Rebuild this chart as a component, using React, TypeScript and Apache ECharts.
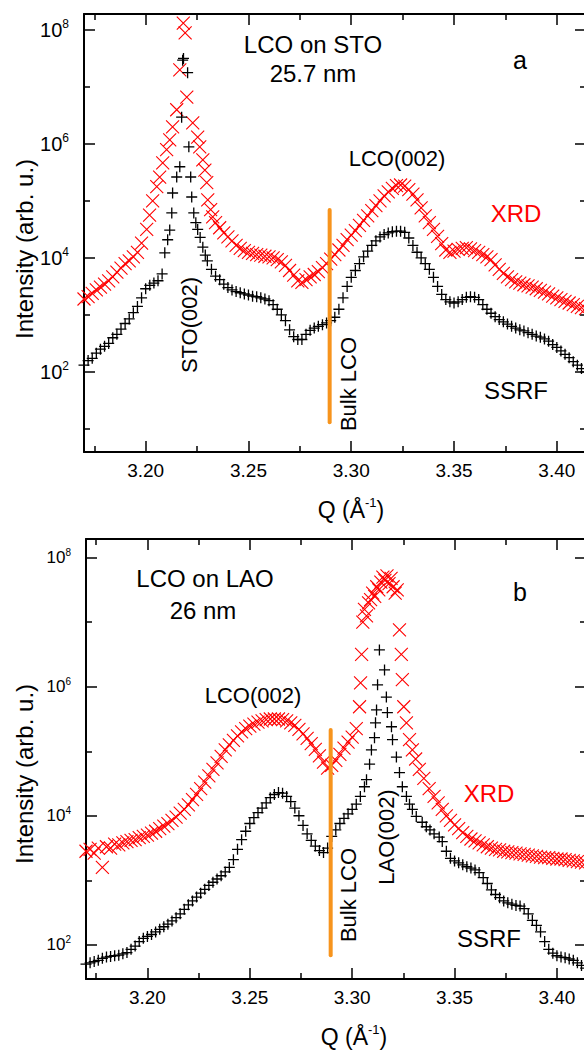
import React, { useEffect, useRef } from "react";
import * as echarts from "echarts";

// Each point: [Q (Å^-1), log10 of intensity (arb. u.)]
// Panel a: LCO on STO
const xrdA: [number, number][] = [
  [3.170, 3.28], [3.172, 3.32], [3.174, 3.38], [3.176, 3.44], [3.178, 3.49], [3.180, 3.54], [3.182, 3.6],
  [3.184, 3.67], [3.186, 3.75], [3.188, 3.82], [3.190, 3.9], [3.192, 3.95], [3.194, 4.02], [3.196, 4.1],
  [3.198, 4.26], [3.2005, 4.5], [3.2019, 4.75], [3.2034, 5.0], [3.2054, 5.25], [3.2068, 5.42], [3.2083, 5.67],
  [3.2102, 5.9], [3.2117, 6.07], [3.2131, 6.3], [3.2151, 6.6], [3.2166, 7.3], [3.2183, 8.12], [3.2192, 7.95],
  [3.2200, 6.82], [3.2229, 6.37], [3.2253, 6.12], [3.2263, 5.95], [3.2278, 5.72], [3.2288, 5.54], [3.2297, 5.32],
  [3.2302, 5.02], [3.2316, 4.85], [3.2326, 4.72], [3.234, 4.62], [3.236, 4.53], [3.238, 4.44], [3.240, 4.37],
  [3.242, 4.3], [3.244, 4.22], [3.246, 4.17], [3.248, 4.13], [3.250, 4.1], [3.252, 4.08], [3.254, 4.06],
  [3.256, 4.05], [3.258, 4.03], [3.260, 4.02], [3.262, 4.0], [3.264, 3.97], [3.266, 3.93], [3.268, 3.87],
  [3.270, 3.78], [3.272, 3.7], [3.274, 3.6], [3.276, 3.57], [3.278, 3.62], [3.280, 3.67], [3.282, 3.71],
  [3.284, 3.76], [3.286, 3.83], [3.288, 3.9], [3.290, 3.98], [3.292, 4.06], [3.294, 4.14], [3.296, 4.22],
  [3.298, 4.32], [3.300, 4.4], [3.302, 4.48], [3.304, 4.57], [3.306, 4.66], [3.308, 4.74], [3.310, 4.83],
  [3.312, 4.92], [3.314, 5.0], [3.316, 5.09], [3.318, 5.16], [3.320, 5.22], [3.322, 5.27], [3.324, 5.28],
  [3.326, 5.26], [3.328, 5.2], [3.330, 5.12], [3.332, 5.02], [3.334, 4.88], [3.336, 4.74], [3.338, 4.62],
  [3.340, 4.5], [3.342, 4.38], [3.344, 4.25], [3.346, 4.14], [3.348, 4.1], [3.350, 4.12], [3.352, 4.15],
  [3.354, 4.17], [3.356, 4.18], [3.358, 4.16], [3.360, 4.13], [3.362, 4.1], [3.364, 4.06], [3.366, 4.02],
  [3.368, 3.97], [3.370, 3.88], [3.372, 3.8], [3.374, 3.73], [3.376, 3.67], [3.378, 3.62], [3.380, 3.58],
  [3.382, 3.56], [3.384, 3.53], [3.386, 3.51], [3.388, 3.49], [3.390, 3.46], [3.392, 3.43], [3.394, 3.4],
  [3.396, 3.37], [3.398, 3.33], [3.400, 3.3], [3.402, 3.27], [3.404, 3.24], [3.406, 3.21], [3.408, 3.18],
  [3.410, 3.15], [3.412, 3.13], [3.414, 3.11],
];

const ssrfA: [number, number][] = [
  [3.170, 2.12], [3.172, 2.2], [3.174, 2.24], [3.176, 2.33], [3.178, 2.4], [3.180, 2.45], [3.182, 2.5],
  [3.184, 2.6], [3.186, 2.66], [3.188, 2.75], [3.190, 2.85], [3.192, 2.93], [3.194, 3.04], [3.196, 3.15],
  [3.198, 3.3], [3.200, 3.46], [3.202, 3.52], [3.204, 3.56], [3.206, 3.6], [3.208, 3.72], [3.2093, 4.09],
  [3.2107, 4.32], [3.2117, 4.49], [3.2127, 4.79], [3.2131, 5.14], [3.2151, 5.42], [3.2166, 5.6], [3.2175, 6.47],
  [3.2180, 7.47], [3.2184, 7.5], [3.2204, 7.25], [3.2210, 5.95], [3.2219, 5.42], [3.2224, 5.07], [3.2234, 4.79],
  [3.2244, 4.62], [3.2253, 4.5], [3.2265, 4.36], [3.2278, 4.19], [3.2290, 4.05], [3.230, 3.95], [3.232, 3.8],
  [3.234, 3.68], [3.236, 3.62], [3.238, 3.54], [3.240, 3.48], [3.242, 3.44], [3.244, 3.41], [3.246, 3.39],
  [3.248, 3.37], [3.250, 3.35], [3.252, 3.33], [3.254, 3.32], [3.256, 3.3], [3.258, 3.28], [3.260, 3.25],
  [3.262, 3.18], [3.264, 3.1], [3.266, 3.0], [3.268, 2.9], [3.270, 2.74], [3.272, 2.62], [3.274, 2.57],
  [3.276, 2.57], [3.278, 2.66], [3.280, 2.73], [3.282, 2.77], [3.284, 2.8], [3.286, 2.83], [3.288, 2.86],
  [3.290, 2.9], [3.292, 2.96], [3.294, 3.1], [3.296, 3.3], [3.298, 3.5], [3.300, 3.66], [3.302, 3.78],
  [3.304, 3.9], [3.306, 4.02], [3.308, 4.12], [3.310, 4.22], [3.312, 4.3], [3.314, 4.37], [3.316, 4.41],
  [3.318, 4.44], [3.320, 4.46], [3.322, 4.47], [3.324, 4.47], [3.326, 4.45], [3.328, 4.35], [3.330, 4.22],
  [3.332, 4.1], [3.334, 4.0], [3.336, 3.9], [3.338, 3.8], [3.340, 3.66], [3.342, 3.5], [3.344, 3.36],
  [3.346, 3.27], [3.348, 3.23], [3.350, 3.21], [3.352, 3.23], [3.354, 3.27], [3.356, 3.31], [3.358, 3.32],
  [3.360, 3.31], [3.362, 3.27], [3.364, 3.18], [3.366, 3.1], [3.368, 3.03], [3.370, 2.97], [3.372, 2.92],
  [3.374, 2.88], [3.376, 2.84], [3.378, 2.8], [3.380, 2.77], [3.382, 2.74], [3.384, 2.72], [3.386, 2.69],
  [3.388, 2.66], [3.390, 2.63], [3.392, 2.61], [3.394, 2.58], [3.396, 2.54], [3.398, 2.48], [3.400, 2.43],
  [3.402, 2.37], [3.404, 2.31], [3.406, 2.25], [3.408, 2.18], [3.410, 2.12], [3.412, 2.06], [3.414, 2.0],
];

// Panel b: LCO on LAO
const xrdB: [number, number][] = [
  [3.170, 3.45], [3.172, 3.48], [3.174, 3.42], [3.176, 3.5], [3.178, 3.2], [3.180, 3.52], [3.182, 3.5],
  [3.184, 3.56], [3.186, 3.55], [3.188, 3.58], [3.190, 3.6], [3.192, 3.62], [3.194, 3.63], [3.196, 3.66],
  [3.198, 3.68], [3.200, 3.7], [3.202, 3.73], [3.204, 3.76], [3.206, 3.8], [3.208, 3.84], [3.210, 3.88],
  [3.212, 3.93], [3.214, 3.98], [3.216, 4.04], [3.218, 4.1], [3.220, 4.17], [3.222, 4.25], [3.224, 4.33],
  [3.226, 4.42], [3.228, 4.52], [3.230, 4.62], [3.232, 4.72], [3.234, 4.82], [3.236, 4.92], [3.238, 5.02],
  [3.240, 5.1], [3.242, 5.17], [3.244, 5.24], [3.246, 5.3], [3.248, 5.35], [3.250, 5.39], [3.252, 5.42],
  [3.254, 5.45], [3.256, 5.47], [3.258, 5.49], [3.260, 5.5], [3.262, 5.5], [3.264, 5.5], [3.266, 5.49],
  [3.268, 5.47], [3.270, 5.44], [3.272, 5.4], [3.274, 5.34], [3.276, 5.27], [3.278, 5.2], [3.280, 5.12],
  [3.282, 5.03], [3.284, 4.93], [3.286, 4.83], [3.288, 4.74], [3.290, 4.78], [3.292, 4.86], [3.294, 4.95],
  [3.296, 5.05], [3.298, 5.14], [3.300, 5.22], [3.302, 5.35], [3.3036, 5.69], [3.3041, 6.06], [3.3046, 6.5],
  [3.3052, 7.0], [3.306, 7.2], [3.307, 7.1], [3.308, 7.3], [3.309, 7.35], [3.310, 7.45], [3.311, 7.4],
  [3.312, 7.55], [3.313, 7.5], [3.314, 7.62], [3.315, 7.7], [3.316, 7.65], [3.317, 7.72], [3.318, 7.6],
  [3.319, 7.68], [3.320, 7.55], [3.321, 7.45], [3.322, 7.5], [3.3231, 6.88], [3.3240, 6.5], [3.3245, 6.11],
  [3.3252, 5.69], [3.3265, 5.44], [3.328, 5.18], [3.3294, 5.02], [3.331, 4.88], [3.3328, 4.72], [3.335, 4.58],
  [3.3376, 4.42], [3.340, 4.3], [3.342, 4.2], [3.344, 4.1], [3.346, 4.0], [3.348, 3.93], [3.350, 3.86],
  [3.352, 3.8], [3.354, 3.74], [3.356, 3.68], [3.358, 3.64], [3.360, 3.61], [3.362, 3.58], [3.364, 3.55],
  [3.366, 3.52], [3.368, 3.5], [3.370, 3.48], [3.372, 3.47], [3.374, 3.45], [3.376, 3.44], [3.378, 3.43],
  [3.380, 3.42], [3.382, 3.41], [3.384, 3.4], [3.386, 3.39], [3.388, 3.38], [3.390, 3.37], [3.392, 3.36],
  [3.394, 3.35], [3.396, 3.35], [3.398, 3.34], [3.400, 3.33], [3.402, 3.33], [3.404, 3.32], [3.406, 3.31],
  [3.408, 3.3], [3.410, 3.29], [3.412, 3.28], [3.414, 3.27],
];

const ssrfB: [number, number][] = [
  [3.170, 1.7], [3.172, 1.72], [3.174, 1.74], [3.176, 1.76], [3.178, 1.79], [3.180, 1.81], [3.182, 1.82],
  [3.184, 1.83], [3.186, 1.84], [3.188, 1.86], [3.190, 1.88], [3.192, 1.93], [3.194, 1.98], [3.196, 2.05],
  [3.198, 2.1], [3.200, 2.13], [3.202, 2.16], [3.204, 2.2], [3.206, 2.24], [3.208, 2.28], [3.210, 2.32],
  [3.212, 2.37], [3.214, 2.42], [3.216, 2.48], [3.218, 2.55], [3.220, 2.62], [3.222, 2.68], [3.224, 2.74],
  [3.226, 2.8], [3.228, 2.86], [3.230, 2.92], [3.232, 2.97], [3.234, 3.02], [3.236, 3.07], [3.238, 3.13],
  [3.240, 3.2], [3.242, 3.32], [3.244, 3.48], [3.246, 3.63], [3.248, 3.76], [3.250, 3.88], [3.252, 3.97],
  [3.254, 4.05], [3.256, 4.12], [3.258, 4.2], [3.260, 4.28], [3.262, 4.33], [3.264, 4.36], [3.266, 4.35],
  [3.268, 4.3], [3.270, 4.22], [3.272, 4.12], [3.274, 4.0], [3.276, 3.85], [3.278, 3.72], [3.280, 3.62],
  [3.282, 3.53], [3.284, 3.46], [3.286, 3.43], [3.288, 3.5], [3.290, 3.68], [3.292, 3.78], [3.294, 3.88],
  [3.296, 3.96], [3.298, 4.03], [3.300, 4.1], [3.302, 4.18], [3.304, 4.3], [3.306, 4.45], [3.307, 4.56],
  [3.3085, 4.8], [3.3094, 5.02], [3.3109, 5.21], [3.3114, 5.44], [3.3119, 5.64], [3.3124, 6.03], [3.3133, 6.57],
  [3.3158, 6.26], [3.3167, 5.84], [3.3172, 5.6], [3.3192, 5.38], [3.3197, 5.18], [3.3216, 4.91], [3.3231, 4.67],
  [3.3245, 4.45], [3.3265, 4.3], [3.328, 4.18], [3.3294, 4.1], [3.3313, 3.99], [3.3342, 3.9], [3.3362, 3.83],
  [3.338, 3.78], [3.340, 3.72], [3.3425, 3.67], [3.344, 3.6], [3.346, 3.45], [3.348, 3.34], [3.350, 3.3],
  [3.352, 3.27], [3.354, 3.24], [3.356, 3.21], [3.358, 3.19], [3.360, 3.16], [3.362, 3.12], [3.364, 3.04],
  [3.366, 2.95], [3.368, 2.85], [3.370, 2.78], [3.372, 2.73], [3.374, 2.68], [3.376, 2.65], [3.378, 2.63],
  [3.380, 2.61], [3.382, 2.6], [3.384, 2.56], [3.386, 2.48], [3.388, 2.38], [3.390, 2.3], [3.392, 2.2],
  [3.394, 2.05], [3.396, 1.93], [3.398, 1.87], [3.400, 1.83], [3.402, 1.81], [3.404, 1.8], [3.406, 1.78],
  [3.408, 1.76], [3.410, 1.72], [3.412, 1.68], [3.414, 1.64],
];

// Bulk LCO reference line: Q position and its vertical extent (log10 intensity)
const bulkLcoQ = 3.2895;
const bulkLineA = [4.84, 1.12];
const bulkLineB = [5.33, 1.84];

// Axis ticks
const xMajorTicks = [3.2, 3.25, 3.3, 3.35, 3.4];
const xMinorTicks = [3.175, 3.225, 3.275, 3.325, 3.375];
const yMajorDecades = [2, 4, 6, 8];
const yMinorDecades = [1, 3, 5, 7];

const FONT = '"Liberation Sans", Arial, Helvetica, sans-serif';
const PLUS = "path://M0,5L10,5M5,0L5,10";
const CROSS = "path://M0,0L10,10M10,0L0,10";
const RED = "#ff0000";
const BLACK = "#000000";
const ORANGE = "#f7941d";

function makeXAxes(gridIndex: number, min: number, max: number) {
  const base = {
    type: "value",
    gridIndex,
    min,
    max,
    splitLine: { show: false },
    axisLabel: { show: false },
    axisLine: { show: false, onZero: false },
  };
  const line = { show: true, onZero: false, lineStyle: { color: BLACK, width: 2 } };
  const major = { show: true, inside: true, length: 11, customValues: xMajorTicks, lineStyle: { color: BLACK, width: 1.5 } };
  const minor = { show: true, inside: true, length: 6, customValues: xMinorTicks, lineStyle: { color: BLACK, width: 1.5 } };
  return [
    {
      ...base,
      position: "bottom",
      axisLine: line,
      axisTick: major,
      axisLabel: {
        show: true,
        customValues: xMajorTicks,
        formatter: (v: number) => v.toFixed(2),
        margin: 9,
        fontSize: 19,
        color: BLACK,
        fontFamily: FONT,
      },
    },
    { ...base, position: "bottom", axisTick: minor },
    { ...base, position: "top", axisLine: line, axisTick: major },
    { ...base, position: "top", axisTick: minor },
  ];
}

function makeYAxes(gridIndex: number, min: number, max: number, labelSize: number, supSize: number) {
  const base = {
    type: "value",
    gridIndex,
    min,
    max,
    splitLine: { show: false },
    axisLabel: { show: false },
    axisLine: { show: false, onZero: false },
  };
  const line = { show: true, onZero: false, lineStyle: { color: BLACK, width: 2 } };
  const major = { show: true, inside: true, length: 11, customValues: yMajorDecades, lineStyle: { color: BLACK, width: 1.5 } };
  const minor = { show: true, inside: true, length: 6, customValues: yMinorDecades, lineStyle: { color: BLACK, width: 1.5 } };
  return [
    {
      ...base,
      position: "left",
      axisLine: line,
      axisTick: major,
      axisLabel: {
        show: true,
        customValues: yMajorDecades,
        formatter: (v: number) => `{b|10}{s|${Math.round(v)}}`,
        margin: 15,
        fontSize: labelSize,
        fontFamily: FONT,
        color: BLACK,
        rich: {
          b: { fontSize: labelSize, fontFamily: FONT, color: BLACK, lineHeight: labelSize + 4 },
          s: { fontSize: supSize, fontFamily: FONT, color: BLACK, verticalAlign: "top" },
        },
      },
    },
    { ...base, position: "left", axisTick: minor },
    { ...base, position: "right", axisLine: line, axisTick: major },
    { ...base, position: "right", axisTick: minor },
  ];
}

function scatter(data: [number, number][], xi: number, yi: number, kind: "xrd" | "ssrf") {
  const c = kind === "xrd" ? RED : BLACK;
  return {
    type: "scatter",
    xAxisIndex: xi,
    yAxisIndex: yi,
    data,
    symbol: kind === "xrd" ? CROSS : PLUS,
    symbolSize: kind === "xrd" ? 13 : 11,
    itemStyle: { color: c, borderColor: c, borderWidth: kind === "xrd" ? 1.1 : 1.3, opacity: 1 },
    silent: true,
    clip: false,
  };
}

function bulkLine(yRange: number[], xi: number, yi: number) {
  return {
    type: "line",
    xAxisIndex: xi,
    yAxisIndex: yi,
    data: [
      [bulkLcoQ, yRange[0]],
      [bulkLcoQ, yRange[1]],
    ],
    symbol: "none",
    lineStyle: { color: ORANGE, width: 4, cap: "round" },
    silent: true,
  };
}

function txt(text: string, x: number, y: number, size: number, opts: any = {}) {
  return {
    type: "text",
    x,
    y,
    rotation: opts.rotate ? Math.PI / 2 : 0,
    silent: true,
    style: {
      text,
      fill: opts.color || BLACK,
      fontSize: size,
      fontFamily: FONT,
      align: "center",
      verticalAlign: "middle",
    },
  };
}

function qTitle(x: number, y: number) {
  return {
    type: "text",
    x,
    y,
    silent: true,
    style: {
      text: "{a|Q (Å}{b|-1}{a|)}",
      align: "center",
      verticalAlign: "middle",
      rich: {
        a: { fontSize: 23, fontFamily: FONT, fill: BLACK, lineHeight: 28 },
        b: { fontSize: 13, fontFamily: FONT, fill: BLACK, verticalAlign: "top" },
      },
    },
  };
}

export default function App() {
  const ref = useRef<HTMLDivElement>(null);

  useEffect(() => {
    if (!ref.current) return;
    const chart = echarts.init(ref.current, null, { renderer: "svg" });
    const option: any = {
      animation: false,
      backgroundColor: "#ffffff",
      grid: [
        { left: 84, top: 14, right: -2, height: 438, outerBoundsMode: "none" },
        { left: 86, top: 539, right: -2, height: 440, outerBoundsMode: "none" },
      ],
      xAxis: [...makeXAxes(0, 3.17, 3.4142), ...makeXAxes(1, 3.17, 3.4142)],
      yAxis: [...makeYAxes(0, 0.596, 8.28, 20, 12), ...makeYAxes(1, 1.47, 8.29, 17, 10)],
      series: [
        scatter(xrdA, 0, 0, "xrd"),
        bulkLine(bulkLineA, 0, 0),
        scatter(ssrfA, 0, 0, "ssrf"),
        scatter(xrdB, 4, 4, "xrd"),
        bulkLine(bulkLineB, 4, 4),
        scatter(ssrfB, 4, 4, "ssrf"),
      ],
      graphic: [
        txt("LCO on STO", 313, 44, 24),
        txt("25.7 nm", 313, 73, 24),
        txt("a", 520, 60, 25),
        txt("LCO(002)", 397, 158, 22),
        txt("XRD", 516, 213, 24, { color: RED }),
        txt("STO(002)", 189, 325, 22, { rotate: true }),
        txt("Bulk LCO", 348, 384, 22, { rotate: true }),
        txt("SSRF", 516, 390, 24),
        txt("Intensity (arb. u.)", 24, 249, 24, { rotate: true }),
        qTitle(351, 510),
        txt("LCO on LAO", 205, 578, 24),
        txt("26 nm", 203, 610, 24),
        txt("b", 520, 592, 25),
        txt("LCO(002)", 253, 695, 22),
        txt("XRD", 489, 793, 24, { color: RED }),
        txt("LAO(002)", 386, 837, 22, { rotate: true }),
        txt("Bulk LCO", 348, 895, 22, { rotate: true }),
        txt("SSRF", 489, 938, 24),
        txt("Intensity (arb. u.)", 24, 774, 24, { rotate: true }),
        qTitle(354, 1037),
      ],
    };
    chart.setOption(option);
    return () => {
      chart.dispose();
    };
  }, []);

  return (
    <div
      ref={ref}
      style={{ position: "absolute", left: 0, top: 0, width: 584, height: 1050, background: "#fff" }}
    />
  );
}
